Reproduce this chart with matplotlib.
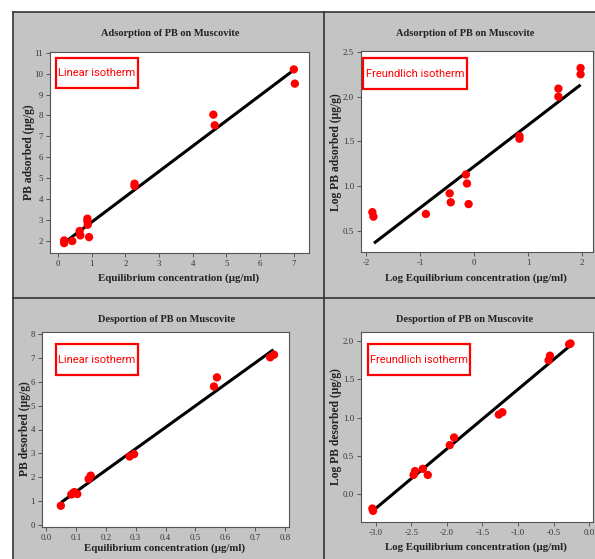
import matplotlib
matplotlib.use("Agg")
import matplotlib.pyplot as plt
from matplotlib.patches import Rectangle
from matplotlib.lines import Line2D
import numpy as np

W, H = 595, 559
DPI = 100

# ---- Adsorption, linear isotherm ----
ads_ce = [0.18, 0.18, 0.42, 0.64, 0.66, 0.87, 0.87, 0.88, 0.92, 2.27, 2.27, 4.61, 4.65, 7.00, 7.03]
ads_qe = [2.03, 1.90, 2.00, 2.48, 2.27, 3.07, 2.95, 2.78, 2.19, 4.74, 4.63, 8.04, 7.53, 10.20, 9.52]
ads_lin_fit = (1.21, 1.70)          # slope, intercept
ads_lin_range = (0.18, 7.00)

# ---- Adsorption, Freundlich isotherm ----
ads_log_ce = [-1.88, -1.86, -0.89, -0.45, -0.43, -0.15, -0.13, -0.10, 0.84, 0.84, 1.56, 1.56, 1.97, 1.97]
ads_log_qe = [0.71, 0.66, 0.69, 0.92, 0.82, 1.13, 1.03, 0.80, 1.56, 1.53, 2.09, 2.00, 2.32, 2.25]
ads_fr_fit = (0.463, 1.22)
ads_fr_range = (-1.85, 1.97)

# ---- Desorption, linear isotherm ----
des_ce = [0.050, 0.085, 0.095, 0.090, 0.105, 0.143, 0.150, 0.280, 0.295, 0.562, 0.572, 0.750, 0.763]
des_qe = [0.81, 1.28, 1.38, 1.33, 1.30, 1.93, 2.07, 2.87, 2.97, 5.80, 6.18, 7.02, 7.13]
des_lin_fit = (9.0, 0.49)
des_lin_range = (0.051, 0.761)

# ---- Desorption, Freundlich isotherm ----
des_log_ce = [-3.05, -3.04, -2.47, -2.45, -2.34, -2.27, -1.96, -1.90, -1.27, -1.22, -0.57, -0.55, -0.28, -0.26]
des_log_qe = [-0.19, -0.22, 0.25, 0.30, 0.33, 0.25, 0.64, 0.74, 1.04, 1.07, 1.75, 1.81, 1.96, 1.97]
des_fr_fit = (0.778, 2.148)
des_fr_range = (-3.04, -0.29)

BG = "#c4c4c4"
SERIF = ["Liberation Serif", "DejaVu Serif"]
TAG_FAMILY = ["Roboto", "Lato", "DejaVu Sans"]

fig = plt.figure(figsize=(W / DPI, H / DPI), dpi=DPI, facecolor="white")
renderer = fig.canvas.get_renderer()


def px_rect(left, top, right, bottom):
    return [left / W, (H - bottom) / H, (right - left) / W, (bottom - top) / H]


def fx(x):
    return x / W


def fy(y):
    return (H - y) / H


# grey backdrop with panel dividers, kept beneath the axes
fig.patches.append(Rectangle((fx(13), 0), 1 - fx(13), fy(12), transform=fig.transFigure,
                             facecolor=BG, edgecolor="none", zorder=-10))
for (x0, x1), (y0, y1) in [((13, 595), (12, 12)), ((13, 13), (12, 559)),
                           ((324, 324), (12, 559)), ((13, 595), (298, 298))]:
    fig.lines.append(Line2D([fx(x0), fx(x1)], [fy(y0), fy(y1)], transform=fig.transFigure,
                            color="#333333", lw=1.2, zorder=-5))


def fitted_tag(text, box):
    """Red-framed tag whose text is sized to sit inside the frame."""
    l, t, r, b = box
    fig.patches.append(Rectangle((fx(l), fy(b)), fx(r - l), (b - t) / H,
                                 transform=fig.transFigure, facecolor="white",
                                 edgecolor="#ff0000", lw=1.6, zorder=5))
    txt = fig.text(fx((l + r) / 2), fy((t + b) / 2 + 0.5), text, ha="center", va="center",
                   color="#ff0000", zorder=6, family=TAG_FAMILY, fontsize=10)
    width = txt.get_window_extent(renderer).width
    target = (r - l) - 5
    txt.set_fontsize(10 * target / width)


def panel(rect, xs, ys, fit, frange, xlim, ylim, xticks, yticks, xfmt, yfmt,
          title, title_xy, xlabel, xlabel_xy, ylabel, ylabel_xy, tag, tag_box):
    ax = fig.add_axes(px_rect(*rect))
    ax.set_facecolor("white")
    for s in ax.spines.values():
        s.set_color("#555555")
        s.set_linewidth(0.8)
    ax.set_xlim(*xlim)
    ax.set_ylim(*ylim)
    ax.set_xticks(xticks)
    ax.set_yticks(yticks)
    ax.set_xticklabels([xfmt(t) for t in xticks], family=SERIF, fontsize=6.3, color="#333333")
    ax.set_yticklabels([yfmt(t) for t in yticks], family=SERIF, fontsize=6.3, color="#333333")
    ax.tick_params(length=3, width=0.7, color="#555555", pad=2)
    ax.scatter(xs, ys, s=36, color="#ff0000", edgecolors="none", zorder=3)
    slope, icpt = fit
    lx = np.array(frange)
    ax.plot(lx, slope * lx + icpt, color="black", lw=2.2, zorder=2, solid_capstyle="butt")
    fig.text(fx(title_xy[0]), fy(title_xy[1]), title, family=SERIF, fontweight="bold",
             fontsize=7.5, ha="center", va="center", color="#222222")
    fig.text(fx(xlabel_xy[0]), fy(xlabel_xy[1]), xlabel, family=SERIF, fontweight="bold",
             fontsize=7.8, ha="center", va="center", color="#222222")
    fig.text(fx(ylabel_xy[0]), fy(ylabel_xy[1]), ylabel, family=SERIF, fontweight="bold",
             fontsize=8.4, ha="center", va="center", rotation=90, color="#222222")
    fitted_tag(tag, tag_box)
    return ax


panel((50, 52, 309, 253), ads_ce, ads_qe, ads_lin_fit, ads_lin_range,
      (-0.24, 7.45), (1.43, 11.03), list(range(0, 8)), list(range(2, 12)),
      lambda t: f"{t:d}", lambda t: f"{t:d}",
      "Adsorption of PB on Muscovite", (170, 34),
      "Equilibrium concentration (µg/ml)", (179, 278),
      "PB adsorbed (µg/g)", (29, 152),
      "Linear isotherm", (56, 58, 138, 88))

panel((361, 51, 593, 252), ads_log_ce, ads_log_qe, ads_fr_fit, ads_fr_range,
      (-2.09, 2.2), (0.265, 2.51), [-2, -1, 0, 1, 2], [0.5, 1.0, 1.5, 2.0, 2.5],
      lambda t: f"{t:d}", lambda t: f"{t:.1f}",
      "Adsorption of PB on Muscovite", (465, 34),
      "Log Equilibrium concentration (µg/ml)", (476, 278),
      "Log PB adsorbed (µg/g)", (336, 152),
      "Freundlich isotherm", (363, 58, 467, 89))

panel((42, 332, 289, 527), des_ce, des_qe, des_lin_fit, des_lin_range,
      (-0.013, 0.813), (-0.08, 8.08), [0.0, 0.1, 0.2, 0.3, 0.4, 0.5, 0.6, 0.7, 0.8],
      list(range(0, 9)),
      lambda t: f"{t:.1f}", lambda t: f"{t:d}",
      "Desportion of PB on Muscovite", (167, 319),
      "Equilibrium concentration (µg/ml)", (165, 548),
      "PB desorbed (µg/g)", (25, 429),
      "Linear isotherm", (56, 344, 138, 375))

panel((361, 332, 593, 522), des_log_ce, des_log_qe, des_fr_fit, des_fr_range,
      (-3.21, 0.056), (-0.366, 2.12), [-3.0, -2.5, -2.0, -1.5, -1.0, -0.5, 0.0],
      [0.0, 0.5, 1.0, 1.5, 2.0],
      lambda t: f"{t:.1f}", lambda t: f"{t:.1f}",
      "Desportion of PB on Muscovite", (465, 319),
      "Log Equilibrium concentration (µg/ml)", (476, 547),
      "Log PB desorbed (µg/g)", (336, 427),
      "Freundlich isotherm", (368, 344, 470, 375))

fig.savefig("out.png", dpi=DPI, facecolor="white")
